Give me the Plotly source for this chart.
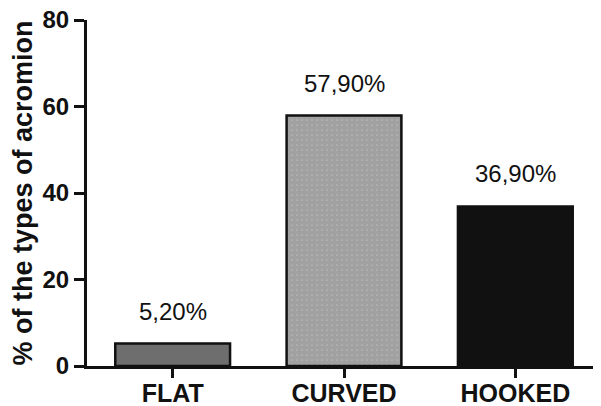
import plotly.graph_objects as go

categories = ["FLAT", "CURVED", "HOOKED"]
values = [5.2, 57.9, 36.9]
labels = ["5,20%", "57,90%", "36,90%"]
y_ticks = [0, 20, 40, 60, 80]

FONT = "Liberation Sans, Arial, sans-serif"

fig = go.Figure()
fig.add_trace(go.Bar(
    x=categories, y=values, width=0.67,
    marker=dict(
        color=["#6e6e6e", "white", "#111111"],
        line=dict(color="#111111", width=2.5),
        pattern=dict(shape=["", ".", ""], fgcolor="#000000", bgcolor="white",
                     size=5, solidity=0.9, fillmode="overlay"),
    ),
    cliponaxis=False,
))

for c, v, t in zip(categories, values, labels):
    fig.add_annotation(x=c, y=v, text=t, showarrow=False, yanchor="bottom",
                       yshift=17, font=dict(family=FONT, size=24, color="#111"))

# page body has an 8px default margin, so the figure is sized/offset to compensate
fig.update_layout(
    width=593, height=398,
    margin=dict(l=79, r=0, t=12, b=40),
    plot_bgcolor="white", paper_bgcolor="white",
    showlegend=False,
    xaxis=dict(
        range=[-0.5, 2.5], showline=True, linecolor="#111", linewidth=3,
        ticks="outside", ticklen=9, tickwidth=2.5, tickcolor="#111",
        tickfont=dict(family=FONT, size=25, color="#111", weight="bold"),
        ticklabelstandoff=-6, ticklabeloverflow="allow",
        showgrid=False, zeroline=False, automargin=False,
    ),
    yaxis=dict(
        range=[0, 80], tickvals=y_ticks, showline=True, linecolor="#111", linewidth=3,
        ticks="outside", ticklen=10, tickwidth=2.5, tickcolor="#111",
        tickfont=dict(family=FONT, size=24, color="#111", weight="bold"),
        ticklabeloverflow="allow",
        title=dict(text="% of the types of acromion", standoff=8,
                   font=dict(family=FONT, size=27, color="#111", weight="bold")),
        showgrid=False, zeroline=False, automargin=False,
    ),
)
fig.write_html("out.html")
